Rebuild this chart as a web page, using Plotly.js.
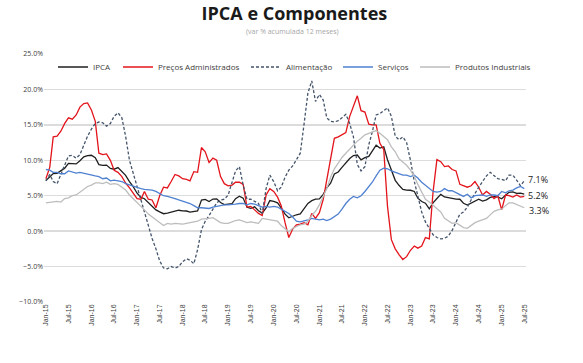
<!DOCTYPE html>
<html><head><meta charset="utf-8">
<script src="https://cdn.plot.ly/plotly-3.0.1.min.js"></script>
<style>html,body{margin:0;padding:0;background:#fff;}#chart{width:583px;height:363px;}</style>
</head><body><div id="chart"></div>
<script>
// Monthly, Jan-2015 .. Jul-2025 (127 points), 12-month accumulated % change
const ipca = [7.14,7.70,8.13,8.17,8.47,8.89,9.56,9.53,9.49,9.93,10.48,10.67,
10.71,10.36,9.39,9.28,9.32,8.84,8.74,8.97,8.48,7.87,6.99,6.29,
5.35,4.76,4.57,4.08,3.60,3.00,2.71,2.46,2.54,2.70,2.80,2.95,
2.86,2.84,2.68,2.76,2.86,4.39,4.48,4.19,4.53,4.56,4.05,3.75,
3.78,3.89,4.58,4.94,4.66,3.37,3.22,3.43,2.89,2.54,3.27,4.31,
4.19,4.00,3.30,2.40,1.88,2.13,2.31,2.44,3.14,3.92,4.31,4.52,
4.56,5.20,6.10,6.76,8.06,8.35,8.99,9.68,10.25,10.67,10.74,10.06,
10.38,10.54,11.30,12.13,11.73,11.89,10.07,8.73,7.17,6.47,5.90,5.79,
5.77,5.60,4.65,4.18,3.94,3.16,3.99,4.61,5.19,4.82,4.68,4.62,
4.51,4.50,3.93,3.69,3.93,4.23,4.50,4.24,4.42,4.76,4.87,4.83,
4.56,5.06,5.48,5.53,5.32,5.35,5.23];
const administrados = [7.4,9.0,13.3,13.4,14.1,15.2,16.0,15.8,16.4,17.5,18.0,18.1,
17.1,15.5,11.0,10.8,10.9,10.0,8.6,8.3,7.7,6.8,6.1,5.3,
4.6,4.5,5.6,4.5,4.4,3.3,5.0,6.2,6.1,7.0,8.0,7.8,
7.4,7.3,7.1,8.4,8.3,11.8,11.2,9.7,10.3,10.0,7.7,6.7,
6.4,6.5,6.9,6.9,6.6,3.4,3.5,3.0,2.5,2.2,5.1,6.0,
5.6,4.8,3.6,1.2,-0.9,0.3,0.9,1.0,1.2,0.9,2.5,1.8,
2.6,4.5,7.4,10.5,13.1,13.3,13.6,13.9,16.2,17.6,19.1,17.0,
16.8,15.1,15.0,15.0,12.4,11.5,3.5,-1.2,-2.5,-3.3,-4.0,-3.6,
-2.7,-2.1,-2.4,-2.1,-0.9,-1.1,5.5,10.1,9.8,9.1,9.2,8.7,
8.5,6.6,6.4,6.2,6.4,7.0,6.2,5.1,5.6,5.2,4.6,5.0,
3.0,5.1,5.0,4.8,5.1,4.8,4.9];
const alimentacao = [7.1,8.0,7.0,6.7,8.0,9.3,10.6,10.7,10.3,10.8,12.2,13.4,
14.4,15.2,15.4,15.3,14.8,15.2,16.2,16.7,16.0,13.4,10.0,8.2,
6.5,4.3,2.6,1.0,-1.0,-2.5,-4.2,-5.2,-5.3,-5.0,-5.2,-5.0,
-4.3,-3.9,-4.1,-4.6,-2.6,0.2,1.4,2.2,3.1,4.0,4.4,4.5,
5.1,7.0,8.5,9.1,6.5,4.5,4.5,4.2,3.9,2.5,6.0,7.9,
7.0,5.7,6.2,7.6,8.6,9.2,10.0,11.0,15.2,19.5,21.2,18.3,
19.3,18.5,16.0,15.5,15.4,15.6,16.0,16.5,15.2,13.3,9.4,8.5,
9.1,12.2,14.0,16.4,16.6,17.0,17.4,16.2,13.4,12.9,13.3,12.5,
10.0,7.0,4.8,2.7,1.3,0.3,-0.5,-0.9,-1.1,-1.0,-0.7,0.1,
1.3,2.4,2.7,3.4,4.4,5.4,6.2,7.0,7.8,8.3,7.8,7.4,
7.3,7.1,7.9,7.9,7.2,6.4,7.1];
const servicos = [8.7,8.6,8.3,8.3,8.1,8.1,8.5,8.3,8.2,8.3,8.2,8.1,
7.9,7.8,7.7,7.4,7.5,7.1,7.2,7.1,7.0,6.7,6.5,6.3,
6.1,6.0,5.9,5.9,5.8,5.6,5.3,5.0,4.9,4.8,4.6,4.4,
4.2,4.1,3.9,3.6,3.3,3.3,3.3,3.2,3.4,3.5,3.7,3.7,
3.7,3.7,3.8,3.9,3.9,3.7,3.9,3.8,3.6,3.4,3.5,3.4,
3.5,3.4,3.1,2.8,2.5,2.0,1.4,1.3,1.4,1.6,1.8,1.7,
1.6,1.7,1.5,1.7,2.0,2.4,3.1,3.9,4.5,4.9,4.7,5.0,
5.6,6.3,6.9,7.8,8.6,8.9,8.8,8.5,8.3,8.0,7.9,7.9,
7.7,7.9,7.5,6.9,6.5,6.0,5.6,5.5,5.6,6.0,5.7,5.7,
5.4,5.2,4.9,5.2,4.7,5.0,5.1,5.1,4.9,5.1,5.1,5.0,
5.6,5.4,5.7,5.8,6.1,6.3,6.0];
const industriais = [4.0,4.1,4.2,4.2,4.1,4.6,4.7,5.0,5.1,5.5,5.9,6.3,
6.5,6.8,6.8,6.7,6.9,6.6,6.7,6.6,6.2,5.8,5.1,4.6,
4.1,3.6,3.0,2.4,2.0,1.6,1.1,0.8,1.1,1.0,1.1,1.0,
1.0,1.1,1.2,1.3,1.4,1.7,1.7,1.8,1.9,1.6,1.2,1.1,
1.1,1.3,1.5,1.6,1.4,1.2,1.3,1.2,1.1,1.8,1.7,1.7,
1.6,1.4,0.8,0.3,-0.1,0.4,0.7,0.9,1.0,1.4,2.2,2.8,
3.7,4.9,6.0,7.6,8.8,9.6,10.4,11.0,11.6,12.2,12.7,13.1,
13.6,13.8,14.0,14.2,13.8,13.4,12.9,11.9,11.2,10.2,9.8,9.3,
8.6,7.7,6.6,5.5,4.5,4.1,3.6,3.1,2.7,1.8,1.4,1.1,
1.2,0.9,0.5,0.4,0.8,1.2,1.4,1.6,1.8,2.3,2.8,3.0,
3.1,3.6,4.0,4.0,3.8,3.5,3.3];

const seriesNames = ['IPCA','Preços Administrados','Alimentação','Serviços','Produtos Industriais'];
const tickLabels = ['Jan-15','Jul-15','Jan-16','Jul-16','Jan-17','Jul-17','Jan-18','Jul-18','Jan-19','Jul-19',
'Jan-20','Jul-20','Jan-21','Jul-21','Jan-22','Jul-22','Jan-23','Jul-23','Jan-24','Jul-24','Jan-25','Jul-25'];

// month dates
const dates = [];
for (let i = 0; i < ipca.length; i++) {
  const y = 2015 + Math.floor(i / 12), m = (i % 12) + 1;
  dates.push(y + '-' + String(m).padStart(2, '0') + '-01');
}
const tickVals = tickLabels.map(function (t, k) {
  const y = 2015 + Math.floor(k / 2), m = (k % 2) ? '07' : '01';
  return y + '-' + m + '-01';
});

const L = 44, W = 482;
function px2paper(px) { return (px - L) / W; }

const colors = ['#1f1f1f', '#e3141b', '#44546a', '#4f81d1', '#bdbdbd'];
const dataArr = [ipca, administrados, alimentacao, servicos, industriais];
const legendNames = ['legend', 'legend2', 'legend3', 'legend4', 'legend5'];
const textStarts = [93, 158, 286, 378, 455];

const traces = dataArr.map(function (arr, i) {
  return {
    x: dates, y: arr, type: 'scatter', mode: 'lines', name: seriesNames[i],
    legend: legendNames[i],
    line: {color: colors[i], width: 1.3, dash: i === 2 ? '3px,2px' : 'solid'},
    hoverinfo: 'skip'
  };
});

const layout = {
  width: 583, height: 363,
  margin: {l: 44, r: 57, t: 54, b: 61},
  paper_bgcolor: '#ffffff', plot_bgcolor: '#ffffff',
  font: {family: 'Open Sans, sans-serif', color: '#404040'},
  title: {
    text: '<b>IPCA e Componentes</b>',
    font: {family: 'Open Sans, sans-serif', size: 18, color: '#1a1a1a'},
    x: 0.505, xref: 'container', xanchor: 'center',
    y: 1 - 13.5 / 363, yref: 'container', yanchor: 'middle'
  },
  xaxis: {
    type: 'date', range: ['2014-12-17', '2025-07-15'],
    tickmode: 'array', tickvals: tickVals, ticktext: tickLabels,
    tickangle: -90, tickfont: {family: 'Liberation Sans, Arial, sans-serif', size: 7, color: '#404040'},
    showgrid: false, zeroline: false, showline: false, ticks: ''
  },
  xaxis2: {
    type: 'date', range: ['2014-12-17', '2025-07-15'], overlaying: 'x',
    anchor: 'free', position: 10 / 35,
    tickmode: 'array', tickvals: tickVals, showticklabels: false,
    ticks: 'outside', ticklen: 3, tickwidth: 1, tickcolor: '#d0d0d0',
    showgrid: false, zeroline: false, showline: false
  },
  yaxis: {
    range: [-10, 25], tickmode: 'linear', tick0: -10, dtick: 5,
    tickformat: '.1f', ticksuffix: '%',
    tickfont: {family: 'Open Sans, sans-serif', size: 7, color: '#404040'},
    showgrid: true, gridcolor: '#dcdcdc', gridwidth: 1.5,
    zeroline: false, showline: false, ticks: ''
  },
  annotations: [
    {text: '(var % acumulada 12 meses)', xref: 'paper', yref: 'paper',
     x: px2paper(292), y: (302 - 31.5) / 248, xanchor: 'center', yanchor: 'middle',
     showarrow: false, font: {family: 'Open Sans, sans-serif', size: 7, color: '#a6a6a6'}},
    {text: alimentacao[alimentacao.length - 1].toFixed(1) + '%', xref: 'x', yref: 'y',
     x: dates[dates.length - 1], y: alimentacao[alimentacao.length - 1], xanchor: 'left', yanchor: 'middle',
     xshift: 2, yshift: 1, showarrow: false, font: {family: 'Open Sans, sans-serif', size: 9, color: '#1a1a1a'}},
    {text: ipca[ipca.length - 1].toFixed(1) + '%', xref: 'x', yref: 'y',
     x: dates[dates.length - 1], y: ipca[ipca.length - 1], xanchor: 'left', yanchor: 'middle',
     xshift: 2, yshift: -1, showarrow: false, font: {family: 'Open Sans, sans-serif', size: 9, color: '#1a1a1a'}},
    {text: industriais[industriais.length - 1].toFixed(1) + '%', xref: 'x', yref: 'y',
     x: dates[dates.length - 1], y: industriais[industriais.length - 1], xanchor: 'left', yanchor: 'middle',
     xshift: 3, yshift: -3, showarrow: false, font: {family: 'Open Sans, sans-serif', size: 9, color: '#1a1a1a'}}
  ],
  showlegend: true
};

legendNames.forEach(function (ln, i) {
  layout[ln] = {
    orientation: 'h', x: px2paper(textStarts[i] - 40), xanchor: 'left',
    y: (302 - 67) / 248, yanchor: 'middle', bgcolor: 'rgba(0,0,0,0)',
    font: {family: 'Open Sans, sans-serif', size: 8, color: '#404040'},
    itemwidth: 30, borderwidth: 0
  };
});

Plotly.newPlot('chart', traces, layout, {displayModeBar: false, staticPlot: true});
</script>
</body></html>
